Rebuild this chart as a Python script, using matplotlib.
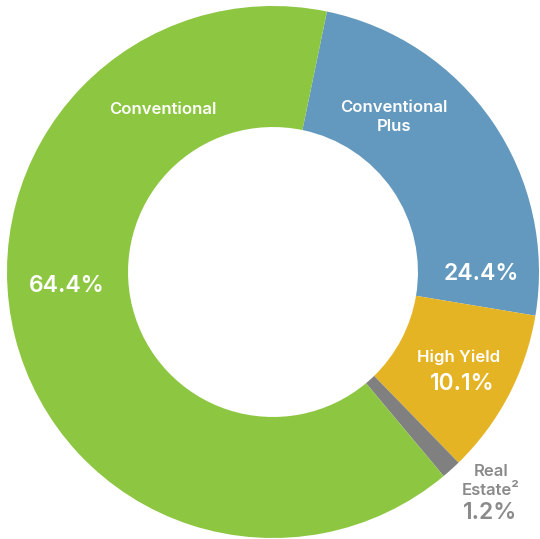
import matplotlib.pyplot as plt

plt.rcParams['font.family'] = ['Inter', 'DejaVu Sans']

# data, clockwise from Conventional Plus
labels = ["Conventional Plus", "High Yield", "Real Estate", "Conventional"]
shares = [24.4, 10.1, 1.2, 64.4]
colors = ["#6399BE", "#E5B425", "#808080", "#8DC641"]

W, H = 540, 539
cx, cy, r = 273, 272, 266  # pixel centre and outer radius

fig = plt.figure(figsize=(W / 100, H / 100), dpi=100)
ax = fig.add_axes([0, 0, 1, 1])
ax.pie(shares, colors=colors, startangle=78.3, counterclock=False, radius=1,
       wedgeprops=dict(width=0.455, edgecolor="none", linewidth=0))
ax.set_xlim(-cx / r, (W - cx) / r)
ax.set_ylim(-(H - cy) / r, cy / r)
ax.set_aspect("equal")
ax.axis("off")


def put(px, py, s, size, color="white", weight="semibold"):
    fig.text(px / W, 1 - py / H, s, ha="center", va="center", fontsize=size,
             color=color, fontweight=weight, linespacing=1.3)


put(163, 109, "Conventional", 12)
put(67, 286, "64.4%", 16.5)
put(394, 117, "Conventional\nPlus", 12)
put(481, 274, "24.4%", 16.5)
put(459, 357, "High Yield", 12)
put(462, 384, "10.1%", 16.5)
put(491, 481, "Real\nEstate²", 12, color="#8A8A8A")
put(490, 513, "1.2%", 16.5, color="#8A8A8A")

fig.savefig("out.png", dpi=100)
